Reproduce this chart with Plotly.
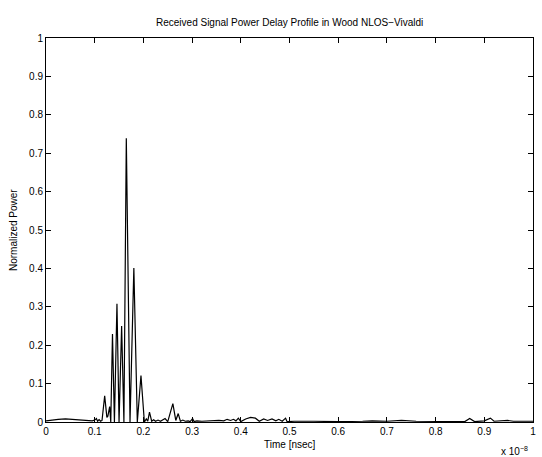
import plotly.graph_objects as go

# Time in units of 1e-8 s (axis shows "x 10^-8")
time_scaled = [
    0.000, 0.010, 0.025, 0.040, 0.055, 0.070, 0.085, 0.095, 0.100, 0.1035,
    0.106, 0.109, 0.112, 0.115, 0.1205, 0.125, 0.127, 0.1307, 0.133, 0.1365,
    0.1405, 0.1457, 0.150, 0.1553, 0.160, 0.1649, 0.1725, 0.1804, 0.1875, 0.1950,
    0.2020, 0.2060, 0.2090, 0.2125, 0.2170, 0.2210, 0.2250, 0.2300, 0.2350, 0.2445,
    0.2500, 0.2605, 0.2665, 0.2715, 0.2760, 0.2810, 0.2860, 0.2920, 0.2960, 0.3010,
    0.3040, 0.3100, 0.3200, 0.3350, 0.3450, 0.3550, 0.3650, 0.3720, 0.3790, 0.3850,
    0.3900, 0.3950, 0.4000, 0.4100, 0.4200, 0.4300, 0.4380, 0.4470, 0.4550, 0.4640,
    0.4720, 0.4780, 0.4850, 0.4920, 0.4950, 0.5100, 0.5500, 0.6000, 0.6500, 0.6700,
    0.7000, 0.7300, 0.7600, 0.8000, 0.8400, 0.8600, 0.8700, 0.8800, 0.9000, 0.9125,
    0.9200, 0.9480, 0.9600, 1.0000,
]
power = [
    0.003, 0.005, 0.007, 0.008, 0.007, 0.006, 0.004, 0.003, 0.005, 0.009,
    0.002, 0.006, 0.002, 0.004, 0.068, 0.012, 0.015, 0.040, 0.000, 0.229,
    0.000, 0.308, 0.000, 0.250, 0.000, 0.739, 0.000, 0.401, 0.000, 0.121,
    0.000, 0.008, 0.002, 0.026, 0.002, 0.006, 0.002, 0.005, 0.002, 0.009,
    0.001, 0.048, 0.004, 0.022, 0.002, 0.005, 0.002, 0.003, 0.001, 0.009,
    0.001, 0.003, 0.002, 0.003, 0.002, 0.004, 0.003, 0.007, 0.004, 0.007,
    0.003, 0.010, 0.001, 0.008, 0.012, 0.010, 0.002, 0.008, 0.004, 0.008,
    0.003, 0.007, 0.002, 0.010, 0.001, 0.002, 0.002, 0.001, 0.002, 0.003,
    0.002, 0.004, 0.002, 0.002, 0.002, 0.001, 0.009, 0.001, 0.003, 0.010,
    0.002, 0.004, 0.002, 0.002,
]
x_ticks = [0, 0.1, 0.2, 0.3, 0.4, 0.5, 0.6, 0.7, 0.8, 0.9, 1]
x_tick_labels = ["0", "0.1", "0.2", "0.3", "0.4", "0.5", "0.6", "0.7", "0.8", "0.9", "1"]
y_ticks = [0, 0.1, 0.2, 0.3, 0.4, 0.5, 0.6, 0.7, 0.8, 0.9, 1]
y_tick_labels = ["0", "0.1", "0.2", "0.3", "0.4", "0.5", "0.6", "0.7", "0.8", "0.9", "1"]

FONT = "Liberation Sans, Arial, Helvetica, sans-serif"

fig = go.Figure()
fig.add_trace(go.Scatter(
    x=time_scaled, y=power, mode="lines",
    line=dict(color="black", width=1.2),
    hoverinfo="skip", showlegend=False,
))

axis_common = dict(
    showgrid=False, zeroline=False,
    showline=True, linecolor="black", linewidth=1,
    mirror="allticks", ticks="inside", ticklen=5, tickcolor="black", tickwidth=1,
    tickfont=dict(family=FONT, size=10, color="black"),
)
fig.update_xaxes(range=[0, 1], tickvals=x_ticks, ticktext=x_tick_labels, **axis_common)
fig.update_yaxes(range=[0, 1], tickvals=y_ticks, ticktext=y_tick_labels, **axis_common)

fig.update_layout(
    width=542, height=457,
    margin=dict(l=46, r=6, t=38, b=35),
    paper_bgcolor="white", plot_bgcolor="white",
    font=dict(family=FONT, size=10, color="black"),
    annotations=[
        dict(text="Received Signal Power Delay Profile in Wood NLOS\u2212Vivaldi",
             xref="paper", yref="paper", x=0.5, y=1.0, yshift=16,
             xanchor="center", yanchor="middle", showarrow=False,
             font=dict(family=FONT, size=10, color="black")),
        dict(text="Time [nsec]", xref="paper", yref="paper", x=0.5, y=0, yshift=-22,
             xanchor="center", yanchor="middle", showarrow=False,
             font=dict(family=FONT, size=10, color="black")),
        dict(text="Normalized Power", xref="paper", yref="paper", x=0, xshift=-33, y=0.5,
             xanchor="center", yanchor="middle", textangle=-90, showarrow=False,
             font=dict(family=FONT, size=10, color="black")),
        dict(text="x 10<sup>\u22128</sup>", xref="paper", yref="paper", x=1, y=0,
             yshift=-29, xshift=-3,
             xanchor="right", yanchor="middle", showarrow=False,
             font=dict(family=FONT, size=10, color="black")),
    ],
)

fig.write_html("out.html")
